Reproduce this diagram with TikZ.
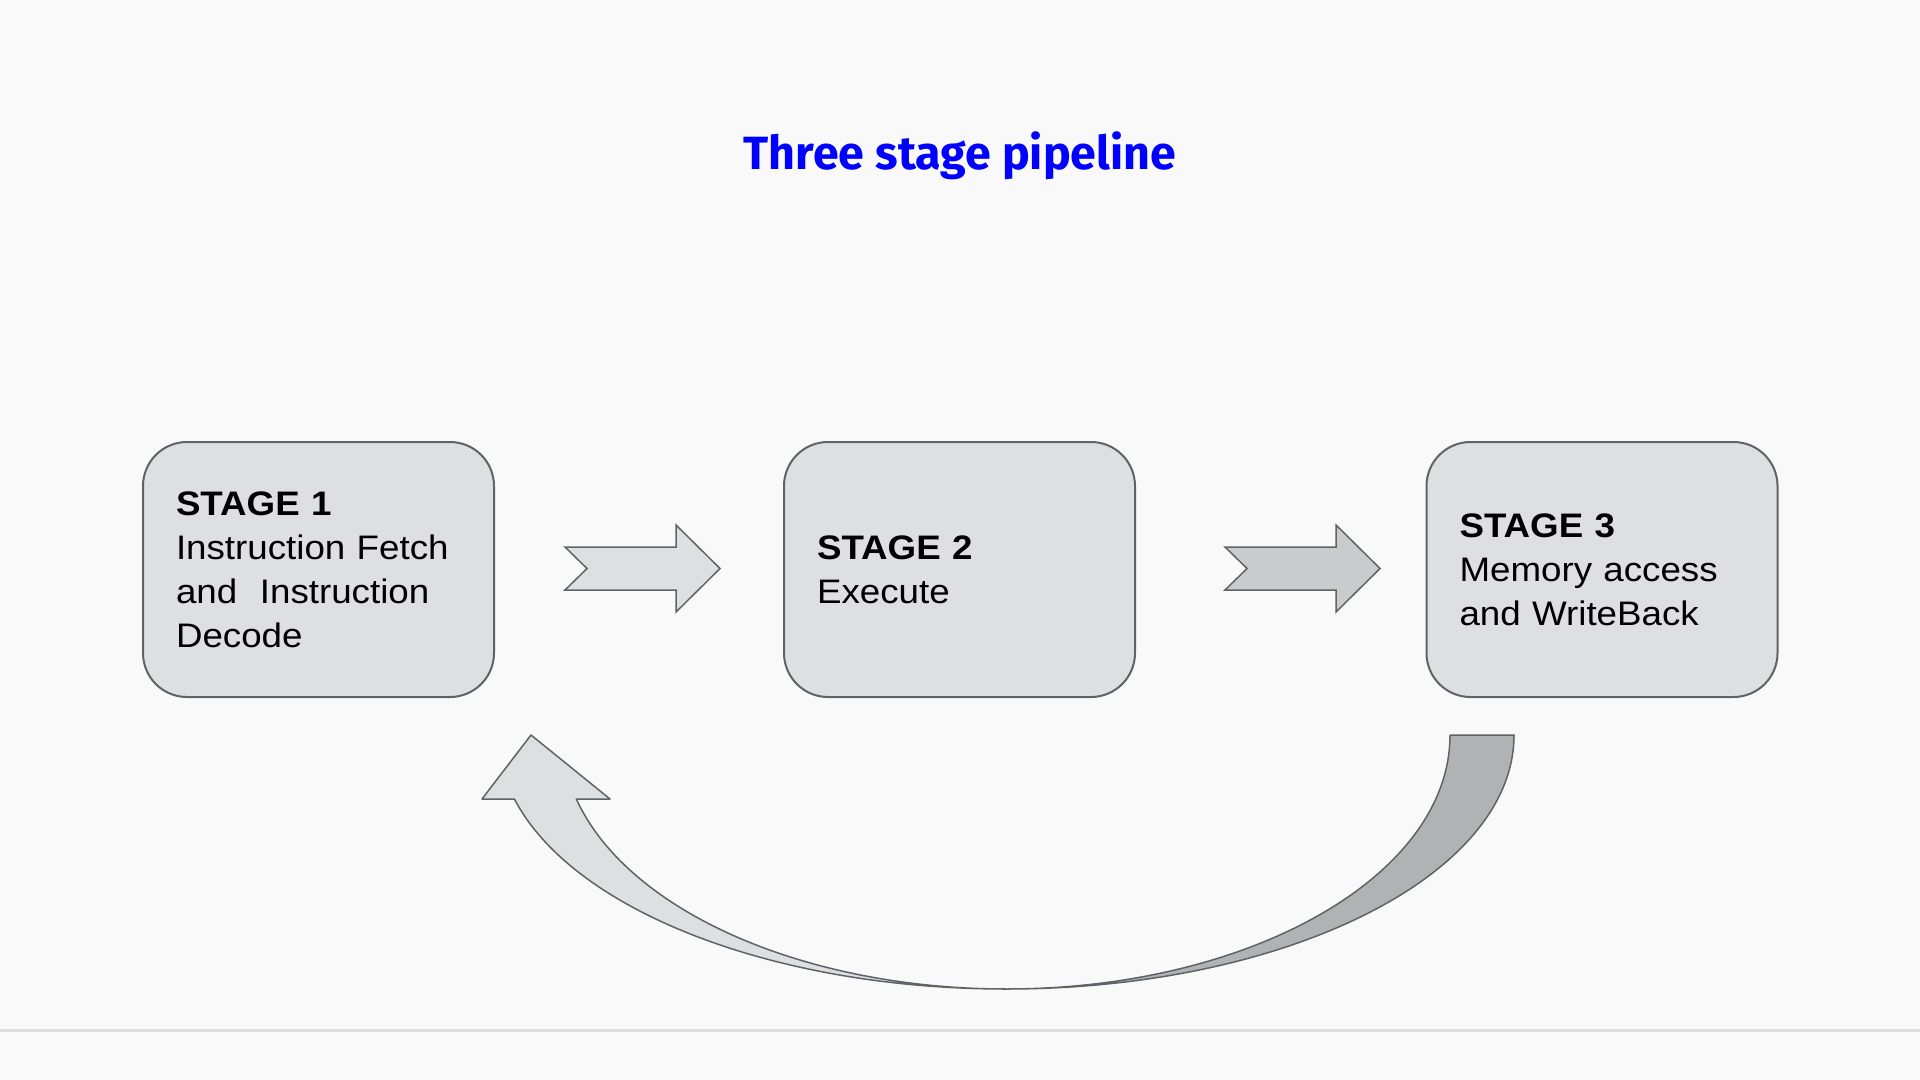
\documentclass[tikz,border=0pt]{standalone}
\usepackage{fontspec}
\setmainfont{Liberation Sans}[FakeStretch=1.08]
\newfontfamily\titlefont{Fira Sans}
\usetikzlibrary{positioning}

\definecolor{bgcol}{HTML}{F9F9F9}
\definecolor{edgecol}{HTML}{5F6368}
\definecolor{boxfill}{HTML}{DEDFE1}
\definecolor{arrowdark}{HTML}{CACBCD}
\definecolor{loopdark}{HTML}{B1B2B4}
\definecolor{rulecol}{HTML}{DEDEDE}
\definecolor{titleblue}{HTML}{0000FF}

\begin{document}
\begin{tikzpicture}[x=0.5pt,y=-0.5pt,
    stage/.style={draw=edgecol, line width=1pt, fill=boxfill, rounded corners=22pt,
      minimum width=175.5pt, minimum height=127.5pt, text width=142.5pt,
      inner xsep=16.5pt, align=left, font=\fontsize{17}{22}\selectfont},
    blockarrow/.pic={
      \path[pic actions] (0,0) -- (111,0) -- (111,-22) -- (155,21.5) -- (111,65)
        -- (111,43) -- (0,43) -- (22,21.5) -- cycle;},
    curve/.style={draw=edgecol, line width=0.75pt, line join=round}]
    \useasboundingbox (0,0) rectangle (1920,1080);
    \fill[bgcol] (0,0) rectangle (1920,1080);
    \draw[rulecol, line width=1.5pt] (0,1030) -- (1920,1030);

    % title
    \node[anchor=base, text=titleblue, font=\titlefont\bfseries\fontsize{23.3}{28}\selectfont] (title) at (960,170) {Three stage pipeline};

    % the three stages
    \node[stage] (s1) at (318.5,569.5) {\textbf{STAGE 1}\\Instruction Fetch\\and\ \ Instruction\\Decode};
    \node[stage, right=144pt of s1] (s2) {\textbf{STAGE 2}\\Execute};
    \node[stage, right=144.75pt of s2] (s3) {\textbf{STAGE 3}\\Memory access\\and WriteBack};

    % arrows between stages
    \pic[draw=edgecol, line width=0.75pt, fill=boxfill] at (565,547) {blockarrow};
    \pic[draw=edgecol, line width=0.75pt, fill=arrowdark] at (1225,547) {blockarrow};

    % loop back from stage 3 to stage 1
    \coordinate (loopc) at (1006,735);
    \draw[curve, fill=loopdark] (1514,735) arc[start angle=0, end angle=90, x radius=508, y radius=254]
      arc[start angle=90, end angle=0, x radius=444, y radius=254] -- cycle;
    \draw[curve, fill=boxfill] (1006,989) arc[start angle=90, end angle=165.4, x radius=508, y radius=254]
      -- (482,799) -- (531,735) -- (610,799) -- (576.3,799)
      arc[start angle=165.4, end angle=90, x radius=444, y radius=254] -- cycle;
\end{tikzpicture}
\end{document}
